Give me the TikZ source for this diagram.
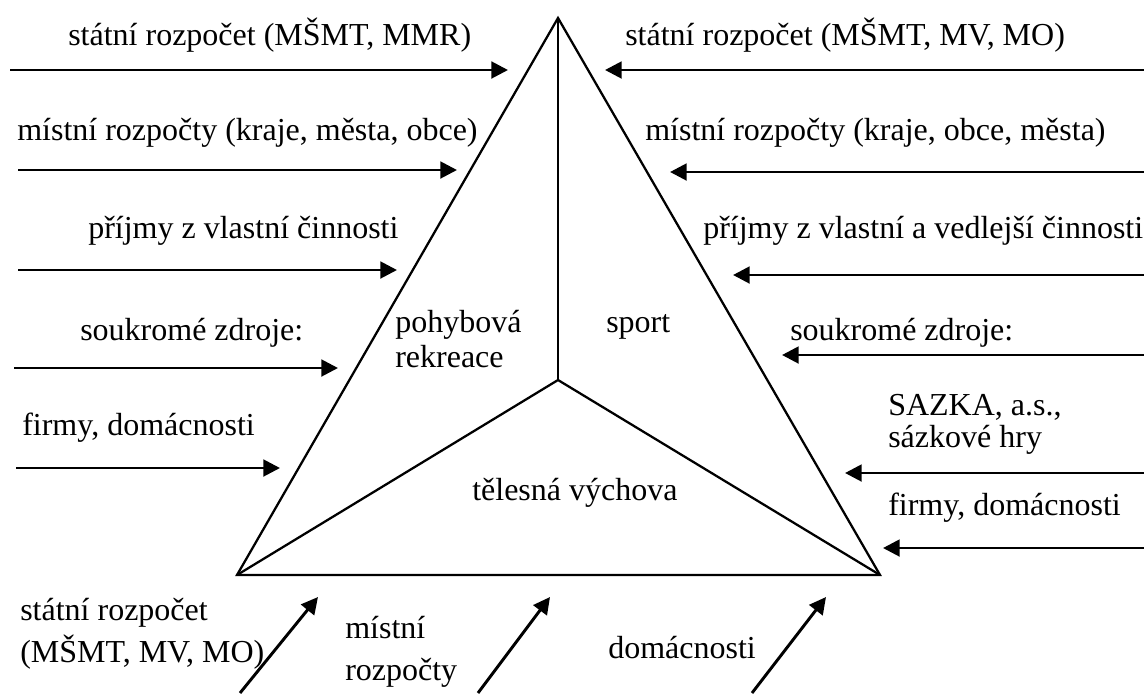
\documentclass[tikz,border=0pt]{standalone}
\usepackage{fontspec}
\setmainfont{Liberation Serif}
\usetikzlibrary{arrows.meta}
\begin{document}
\begin{tikzpicture}[x=0.75pt,y=-0.75pt,
  lbl/.style={font=\fontsize{24}{28}\selectfont, inner sep=0pt, anchor=base west},
  arr/.style={line width=2.2pt, -{Triangle[length=12.5pt,width=12.5pt]}},
  tri/.style={line width=1.7pt, line join=miter}]
\useasboundingbox (0,0) rectangle (1144,693);
% triangle
\coordinate (A) at (558,18);
\coordinate (L) at (237,575);
\coordinate (R) at (880,575);
\coordinate (C) at (558,380);
\draw[tri] (A) -- (R) -- (L) -- cycle;
\draw[tri] (A) -- (C);
\draw[tri] (L) -- (C) -- (R);
% inner labels
\node[lbl] (pr1) at (395,332) {pohybová};
\node[lbl] (pr2) at (395,367) {rekreace};
\node[lbl] (sp) at (606,332) {sport};
\node[lbl] (tv) at (472,500) {tělesná výchova};
% left side
\node[lbl] (l1) at (68,45) {státní rozpočet (MŠMT, MMR)};
\node[lbl] (l2) at (17,140) {místní rozpočty (kraje, města, obce)};
\node[lbl] (l3) at (88,238) {příjmy z vlastní činnosti};
\node[lbl] (l4) at (80,340) {soukromé zdroje:};
\node[lbl] (l5) at (22,435) {firmy, domácnosti};
\coordinate (ls1) at (10,70);  \coordinate (lt1) at (508,70);
\coordinate (ls2) at (18,170); \coordinate (lt2) at (457,170);
\coordinate (ls3) at (18,270); \coordinate (lt3) at (397,270);
\coordinate (ls4) at (14,368); \coordinate (lt4) at (338,368);
\coordinate (ls5) at (16,468); \coordinate (lt5) at (280,468);
\draw[arr] (ls1) -- (lt1);
\draw[arr] (ls2) -- (lt2);
\draw[arr] (ls3) -- (lt3);
\draw[arr] (ls4) -- (lt4);
\draw[arr] (ls5) -- (lt5);
% right side
\node[lbl] (r1) at (625,45) {státní rozpočet (MŠMT, MV, MO)};
\node[lbl] (r2) at (645,140) {místní rozpočty (kraje, obce, města)};
\node[lbl] (r3) at (703,238) {příjmy z vlastní a vedlejší činnosti};
\node[lbl] (r4) at (790,340) {soukromé zdroje:};
\node[lbl] (r5a) at (888,415) {SAZKA, a.s.,};
\node[lbl] (r5b) at (888,447) {sázkové hry};
\node[lbl] (r6) at (888,515) {firmy, domácnosti};
\coordinate (rs1) at (1144,70);  \coordinate (rt1) at (605,70);
\coordinate (rs2) at (1144,172); \coordinate (rt2) at (670,172);
\coordinate (rs3) at (1144,275); \coordinate (rt3) at (733,275);
\coordinate (rs4) at (1144,355); \coordinate (rt4) at (782,355);
\coordinate (rs5) at (1144,473); \coordinate (rt5) at (845,473);
\coordinate (rs6) at (1144,548); \coordinate (rt6) at (883,548);
\draw[arr] (rs1) -- (rt1);
\draw[arr] (rs2) -- (rt2);
\draw[arr] (rs3) -- (rt3);
\draw[arr] (rs4) -- (rt4);
\draw[arr] (rs5) -- (rt5);
\draw[arr] (rs6) -- (rt6);
% bottom
\node[lbl] (b1a) at (20,620) {státní rozpočet};
\node[lbl] (b1b) at (20,662) {(MŠMT, MV, MO)};
\node[lbl] (b2a) at (345,638) {místní};
\node[lbl] (b2b) at (345,680) {rozpočty};
\node[lbl] (b3) at (608,658) {domácnosti};
\coordinate (bs1) at (240,693); \coordinate (bt1) at (318,597);
\coordinate (bs2) at (478,693); \coordinate (bt2) at (550,597);
\coordinate (bs3) at (752,693); \coordinate (bt3) at (826,597);
\draw[arr] (bs1) -- (bt1);
\draw[arr] (bs2) -- (bt2);
\draw[arr] (bs3) -- (bt3);
\end{tikzpicture}
\end{document}
